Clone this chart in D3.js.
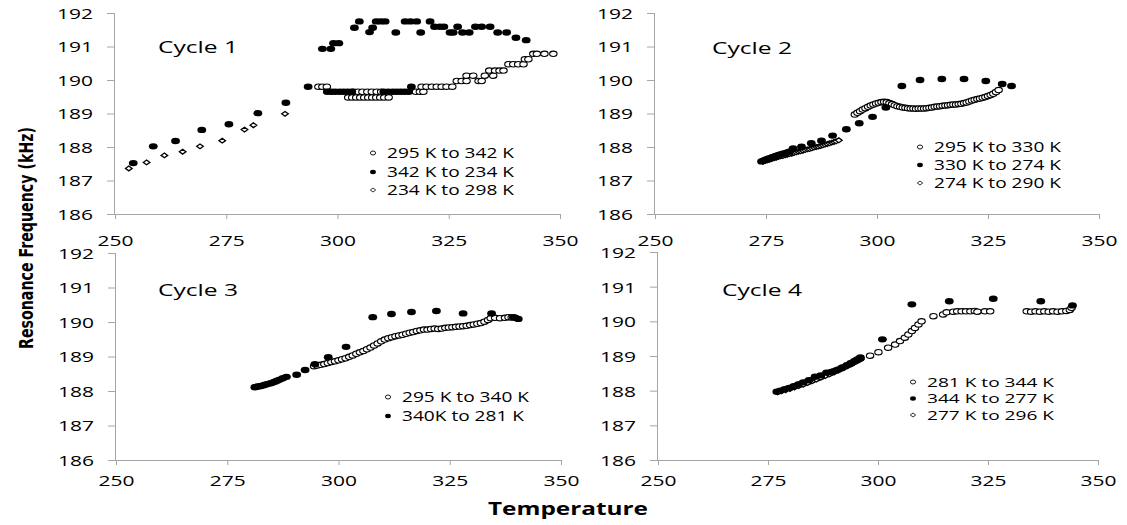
<!DOCTYPE html>
<html>
<head>
<meta charset="utf-8">
<script src="https://cdn.jsdelivr.net/npm/d3@7"></script>
<style>
  body { margin: 0; background: #fff; }
  text { fill: #000; }
</style>
</head>
<body>
<div id="chart"></div>
<script>
// axis ticks shared by all four panels
const xTicks = [250, 275, 300, 325, 350];
const yTicks = [186, 187, 188, 189, 190, 191, 192];

// Cycle 1  [temperature K, frequency kHz]
const c1Heat = [
  [295.7,189.80],[296.6,189.80],[297.6,189.80],
  [303.6,189.65],[304.6,189.65],[305.6,189.65],[306.7,189.65],[307.7,189.65],[308.8,189.65],[309.8,189.65],
  [317.6,189.65],[318.5,189.65],[319.3,189.65],
  [302.4,189.48],[303.3,189.48],[304.2,189.48],[305.1,189.48],[306.0,189.48],[306.9,189.48],[307.8,189.48],
  [308.7,189.48],[309.6,189.48],[310.5,189.48],[311.5,189.48],
  [318.9,189.80],[320.0,189.80],[321.2,189.80],[322.3,189.80],[323.4,189.80],[324.5,189.80],[325.8,189.80],
  [326.8,189.97],[327.9,189.97],[329.0,189.97],[329.0,190.13],[330.5,190.13],[331.7,189.97],[332.4,189.97],
  [333.1,190.13],[335.0,190.13],[334.1,190.28],[335.4,190.28],[336.4,190.28],[337.3,190.28],
  [338.4,190.47],[339.5,190.47],[340.6,190.47],[341.8,190.47],[342.1,190.62],[342.9,190.62],
  [344.0,190.78],[344.8,190.78],[346.5,190.78],[348.5,190.78]
];
const c1Cool = [
  [342.4,191.19],[340.1,191.26],[338.0,191.42],[336.0,191.42],[334.3,191.59],[332.4,191.59],[331.0,191.59],
  [329.6,191.42],[328.1,191.42],[327.0,191.59],[326.0,191.42],[325.3,191.42],[323.9,191.59],[323.0,191.59],
  [321.8,191.59],[320.8,191.75],[318.7,191.42],[317.8,191.75],[316.4,191.75],[315.2,191.75],[313.1,191.42],
  [310.7,191.75],[309.7,191.75],[308.7,191.75],[307.9,191.56],[307.2,191.43],[304.9,191.75],[303.8,191.56],
  [300.3,191.10],[299.1,191.10],[298.5,190.93],[296.6,190.93],
  [316.6,189.80],[316.0,189.65],[315.1,189.65],[314.2,189.65],[313.3,189.65],[312.4,189.65],[311.4,189.65],
  [310.4,189.65],[303.2,189.65],[302.3,189.65],[301.4,189.65],[300.5,189.65],[299.5,189.65],[298.6,189.65],
  [297.7,189.65],
  [293.4,189.80],[288.4,189.32],[282.1,189.01],[275.6,188.68],[269.5,188.51],[263.6,188.18],[258.6,188.02],
  [254.1,187.52]
];
const c1Warm = [
  [253.1,187.36],[257.1,187.54],[261.1,187.75],[265.2,187.86],[269.1,188.02],[274.1,188.19],
  [279.1,188.52],[281.1,188.65],[288.2,188.99]
];
const c1Labels = ["295 K to 342 K", "342 K to 234 K", "234 K to 298 K"];

// Cycle 2
const c2Heat = [
  [295.0,188.97],[295.6,189.02],[296.2,189.07],[296.8,189.12],[297.4,189.16],[298.0,189.20],[298.6,189.24],
  [299.2,189.27],[299.8,189.30],[300.4,189.32],[301.0,189.34],[301.6,189.35],[302.2,189.34],[302.8,189.31],
  [303.4,189.28],[304.0,189.25],[304.6,189.22],[305.2,189.20],[305.8,189.18],[306.4,189.17],[307.0,189.16],
  [307.6,189.15],[308.2,189.15],[308.8,189.14],[309.4,189.15],[310.0,189.15],[310.6,189.15],[311.2,189.16],
  [311.8,189.17],[312.4,189.18],[313.0,189.20],[313.6,189.21],[314.2,189.22],[314.8,189.23],[315.4,189.24],
  [316.0,189.25],[316.6,189.26],[317.2,189.27],[317.8,189.27],[318.4,189.28],[319.0,189.29],[319.6,189.31],
  [320.2,189.33],[320.8,189.36],[321.4,189.39],[322.0,189.41],[322.6,189.43],[323.2,189.45],[323.8,189.47],
  [324.4,189.49],[325.0,189.52],[325.6,189.55],[326.2,189.59],[326.8,189.64],[327.4,189.70]
];
const c2Cool = [
  [330.3,189.82],[328.2,189.88],[324.5,189.97],[319.6,190.03],[314.6,190.03],[309.7,190.00],[305.6,189.82],
  [302.0,189.18],[299.0,188.90],[296.0,188.71],[293.1,188.53],[290.0,188.34],[287.5,188.19],[285.2,188.11],
  [283.0,188.01],[281.1,187.96],[280.3,187.86],[279.8,187.84],[279.2,187.81],[278.8,187.80],[278.3,187.78],
  [277.9,187.76],[277.4,187.74],[277.0,187.72],[276.6,187.70],[276.2,187.68],[275.8,187.66],[275.5,187.65],
  [275.1,187.63],[274.8,187.61],[274.4,187.59],[274.0,187.57]
];
const c2Warm = [
  [274.3,187.56],[274.8,187.58],[275.3,187.60],[275.8,187.62],[276.3,187.64],[276.8,187.66],[277.3,187.68],
  [277.8,187.70],[278.3,187.72],[278.8,187.73],[279.3,187.75],[279.8,187.77],[280.3,187.79],[280.8,187.80],
  [281.3,187.82],[281.8,187.84],[282.3,187.86],[282.8,187.87],[283.3,187.89],[283.8,187.91],[284.3,187.93],
  [284.8,187.94],[285.3,187.96],[285.8,187.98],[286.3,188.00],[286.8,188.01],[287.3,188.03],[287.8,188.05],
  [288.3,188.07],[288.8,188.09],[289.3,188.11],[289.8,188.13],[290.3,188.15],[290.8,188.17],[291.4,188.20]
];
const c2Labels = ["295 K to 330 K", "330 K to 274 K", "274 K to 290 K"];

// Cycle 3
const c3Heat = [
  [294.5,188.72],[295.2,188.74],[296.0,188.76],[296.8,188.78],[297.6,188.81],[298.4,188.84],[299.2,188.86],
  [300.0,188.89],[300.8,188.92],[301.6,188.95],[302.4,188.99],[303.2,189.03],[304.0,189.08],[304.8,189.12],
  [305.6,189.16],[306.4,189.21],[307.2,189.26],[308.0,189.32],[308.8,189.38],[309.6,189.44],[310.4,189.49],
  [311.2,189.53],[312.0,189.56],[312.8,189.59],[313.6,189.61],[314.4,189.63],[315.2,189.66],[316.0,189.69],
  [316.8,189.71],[317.6,189.74],[318.4,189.76],[319.2,189.78],[320.0,189.78],[320.8,189.80],[321.6,189.81],
  [322.4,189.80],[323.2,189.81],[324.0,189.83],[324.8,189.84],[325.6,189.85],[326.4,189.86],[327.2,189.87],
  [328.0,189.88],[328.8,189.89],[329.6,189.91],[330.4,189.93],[331.2,189.95],[332.0,189.97],[332.8,190.01],
  [333.6,190.06],[334.2,190.11],[335.2,190.12],[336.3,190.11],[337.4,190.12],[338.2,190.14],[338.9,190.13],
  [339.7,190.12]
];
const c3Cool = [
  [340.4,190.09],[339.3,190.14],[334.4,190.25],[328.0,190.25],[322.0,190.32],[316.4,190.29],[311.9,190.23],
  [307.7,190.14],[301.7,189.28],[297.7,188.98],[294.7,188.78],[292.5,188.61],[290.6,188.47],[288.3,188.41],
  [287.5,188.37],[286.8,188.33],[286.2,188.30],[285.7,188.27],[285.1,188.24],[284.6,188.22],[284.0,188.20],
  [283.5,188.18],[283.0,188.16],[282.4,188.14],[281.9,188.13],[281.5,188.12],[281.2,188.11]
];
const c3Warm = [];
const c3Labels = ["295 K to 340 K", "340K to 281 K"];

// Cycle 4
const c4Heat = [
  [281.0,188.13],[282.0,188.17],[283.0,188.21],[284.0,188.25],[285.0,188.30],[286.0,188.35],[287.0,188.40],
  [288.0,188.45],[289.0,188.50],[290.0,188.56],[291.0,188.61],[292.0,188.67],[293.0,188.73],[294.0,188.79],
  [295.0,188.86],[296.0,188.93],[298.2,189.01],[300.1,189.11],[302.3,189.24],[303.9,189.33],[305.0,189.43],
  [306.1,189.53],[306.9,189.62],[307.7,189.72],[308.4,189.81],[309.2,189.91],[309.9,190.00],[312.6,190.15],
  [314.8,190.20],[315.6,190.26],[317.1,190.28],[318.0,190.29],[319.0,190.29],[320.0,190.29],[321.0,190.29],
  [322.0,190.30],[322.6,190.28],[324.3,190.29],[325.5,190.29],[333.8,190.29],[334.8,190.28],[335.8,190.29],
  [336.8,190.28],[337.8,190.29],[338.8,190.28],[339.8,190.29],[340.8,190.28],[341.8,190.29],[342.8,190.30],
  [343.6,190.33],[344.0,190.39]
];
const c4Cool = [
  [344.2,190.46],[337.0,190.58],[326.2,190.65],[316.2,190.58],[307.7,190.49],[301.0,189.48],[296.0,188.96],
  [295.3,188.90],[294.6,188.85],[293.8,188.79],[292.9,188.73],[291.8,188.66],[290.6,188.59],[289.4,188.54],
  [288.3,188.52],[287.0,188.44],[285.7,188.40],[284.3,188.30],[283.0,188.24],[281.9,188.18],[280.8,188.12],
  [279.8,188.08],[278.8,188.04],[277.8,188.00],[277.0,187.97]
];
const c4Warm = [
  [277.2,187.95],[278.0,187.98],[279.0,188.01],[280.0,188.05],[281.0,188.09],[282.0,188.13],[283.0,188.17],
  [284.0,188.22],[285.0,188.27],[286.0,188.32],[287.0,188.37],[288.0,188.42],[289.0,188.47],[290.0,188.52],
  [291.0,188.58],[292.0,188.64],[293.0,188.70],[294.0,188.76],[295.0,188.83],[296.0,188.90]
];
const c4Labels = ["281 K to 344 K", "344 K to 277 K", "277 K to 296 K"];

const width = 1127, height = 525;
const axisColor = "#a6a6a6";
const fontFam = "'Open Sans', 'DejaVu Sans', sans-serif";

const svg = d3.select("#chart")
  .append("svg")
  .attr("width", width)
  .attr("height", height);

// panel boxes and text spots, in pixels
const panels = [
  { title: "Cycle 1", heat: c1Heat, cool: c1Cool, warm: c1Warm, labels: c1Labels,
    x0: 115, x1: 560, y0: 13, y1: 214, xLabY: 246, titleX: 198, titleY: 53,
    legX: 373, legRows: [153, 172, 190], legSize: 14 },
  { title: "Cycle 2", heat: c2Heat, cool: c2Cool, warm: c2Warm, labels: c2Labels,
    x0: 655, x1: 1099, y0: 13, y1: 214, xLabY: 246, titleX: 752, titleY: 54,
    legX: 920, legRows: [147, 165, 183], legSize: 14 },
  { title: "Cycle 3", heat: c3Heat, cool: c3Cool, warm: c3Warm, labels: c3Labels,
    x0: 116, x1: 561, y0: 253, y1: 460, xLabY: 486, titleX: 198, titleY: 296,
    legX: 388, legRows: [397, 416], legSize: 14 },
  { title: "Cycle 4", heat: c4Heat, cool: c4Cool, warm: c4Warm, labels: c4Labels,
    x0: 658, x1: 1098, y0: 252, y1: 460, xLabY: 486, titleX: 762, titleY: 296,
    legX: 913, legRows: [382, 398.5, 415], legSize: 13 }
];

function diamond(hw, hh) {
  return `M0,${-hh}L${hw},0L0,${hh}L${-hw},0Z`;
}

function drawMarker(g, kind, big) {
  if (kind === "open") {
    g.append("ellipse").attr("rx", big ? 3.7 : 2.6).attr("ry", big ? 2.7 : 2.0)
      .attr("fill", "#fff").attr("stroke", "#000").attr("stroke-width", big ? 1.1 : 0.9);
  } else if (kind === "filled") {
    g.append("ellipse").attr("rx", big ? 4.4 : 2.9).attr("ry", big ? 3.2 : 2.2)
      .attr("fill", "#000");
  } else {
    g.append("path").attr("d", big ? diamond(3.3, 2.4) : diamond(2.7, 2.0))
      .attr("fill", "#fff").attr("stroke", "#000").attr("stroke-width", big ? 1.3 : 0.8);
  }
}

panels.forEach(p => {
  const x = d3.scaleLinear().domain([250, 350]).range([p.x0, p.x1]);
  const y = d3.scaleLinear().domain([186, 192]).range([p.y1, p.y0]);
  const g = svg.append("g");

  // y axis
  const yAxis = g.append("g")
    .attr("transform", `translate(${p.x0},0)`)
    .call(d3.axisLeft(y).tickValues(yTicks).tickSize(8).tickFormat(d3.format("d")));
  yAxis.select(".domain").attr("stroke", axisColor).attr("d", `M-0.5,${p.y1}V${p.y0}`);
  yAxis.selectAll(".tick line").attr("stroke", axisColor);
  yAxis.selectAll(".tick text")
    .attr("x", -22).attr("dy", "0.36em")
    .attr("font-family", fontFam).attr("font-size", 15)
    .attr("textLength", 36).attr("lengthAdjust", "spacingAndGlyphs");

  // x axis
  const xAxis = g.append("g")
    .attr("transform", `translate(0,${p.y1})`)
    .call(d3.axisBottom(x).tickValues(xTicks).tickSize(5).tickFormat(d3.format("d")));
  xAxis.select(".domain").attr("stroke", axisColor).attr("d", `M${p.x0},0.5H${p.x1}`);
  xAxis.selectAll(".tick line").attr("stroke", axisColor);
  xAxis.selectAll(".tick text")
    .attr("y", p.xLabY - p.y1).attr("dy", 0)
    .attr("font-family", fontFam).attr("font-size", 15)
    .attr("textLength", 36).attr("lengthAdjust", "spacingAndGlyphs");
  g.selectAll(".tick text").attr("fill", "#000");
  g.selectAll(".domain, .tick line").attr("stroke-width", 1);
  xAxis.selectAll(".tick text").attr("text-anchor", "middle");
  yAxis.selectAll(".tick text").attr("text-anchor", "end");

  // series: heating (open), re-warming (diamond), cooling (filled) on top
  [["open", p.heat], ["diamond", p.warm], ["filled", p.cool]].forEach(([kind, data]) => {
    g.append("g").selectAll("g")
      .data(data)
      .join("g")
      .attr("transform", d => `translate(${x(d[0])},${y(d[1])})`)
      .each(function() { drawMarker(d3.select(this), kind, true); });
  });

  // panel title
  g.append("text")
    .attr("x", p.titleX).attr("y", p.titleY)
    .attr("text-anchor", "middle")
    .attr("font-family", fontFam).attr("font-size", 17)
    .attr("textLength", 80).attr("lengthAdjust", "spacingAndGlyphs")
    .text(p.title);

  // legend
  const kinds = ["open", "filled", "diamond"];
  p.labels.forEach((lab, i) => {
    const row = g.append("g").attr("transform", `translate(${p.legX},${p.legRows[i]})`);
    drawMarker(row, kinds[i], false);
    row.append("text")
      .attr("x", 14).attr("y", p.legSize * 0.36)
      .attr("font-family", fontFam).attr("font-size", p.legSize)
      .attr("textLength", lab === "340K to 281 K" ? 122 : 127)
      .attr("lengthAdjust", "spacingAndGlyphs")
      .text(lab);
  });
});

// shared axis titles
svg.append("text")
  .attr("x", 568).attr("y", 515)
  .attr("text-anchor", "middle")
  .attr("font-family", fontFam).attr("font-weight", "bold").attr("font-size", 17)
  .attr("textLength", 160).attr("lengthAdjust", "spacingAndGlyphs")
  .text("Temperature");

svg.append("text")
  .attr("transform", "translate(33,238) rotate(-90)")
  .attr("text-anchor", "middle")
  .attr("font-family", "'Liberation Sans Narrow', 'DejaVu Sans Condensed', sans-serif")
  .attr("font-weight", "bold").attr("font-size", 20)
  .attr("textLength", 222).attr("lengthAdjust", "spacingAndGlyphs")
  .text("Resonance Frequency (kHz)");
</script>
</body>
</html>
